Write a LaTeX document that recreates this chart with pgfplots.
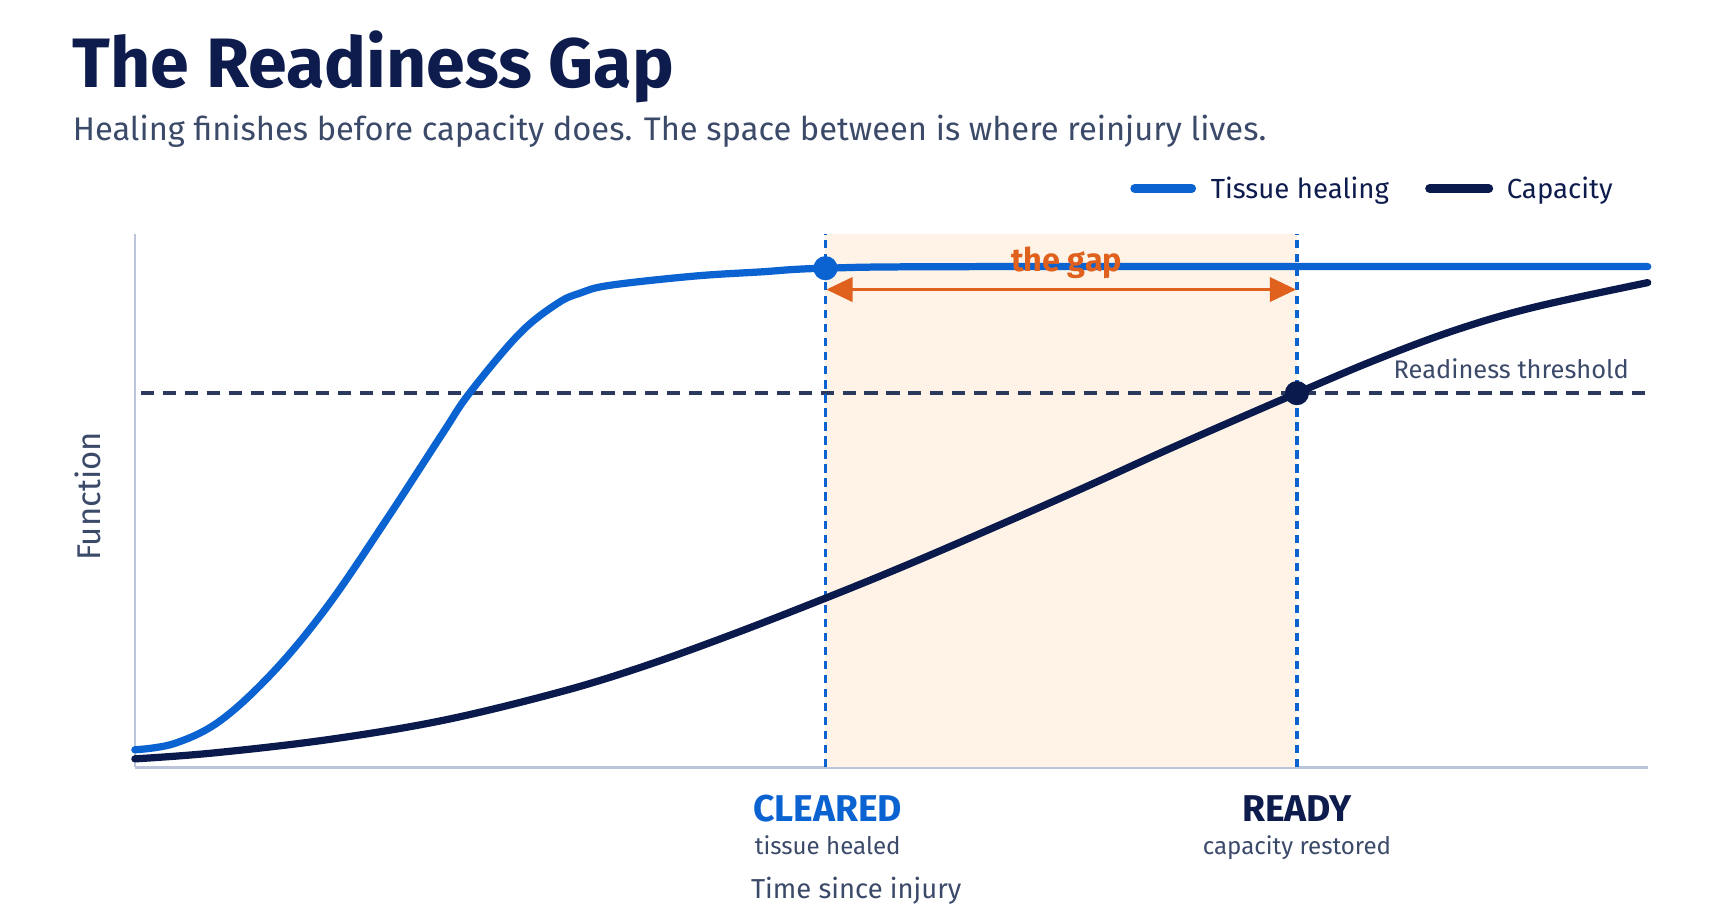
\documentclass[border=0pt]{standalone}
\usepackage{fontspec}
\setmainfont{Fira Sans}
\usepackage{pgfplots}
\pgfplotsset{compat=1.18}
\usetikzlibrary{arrows.meta}

\definecolor{titlenavy}{HTML}{0E1B4D}
\definecolor{subgray}{HTML}{3C4A6A}
\definecolor{healblue}{HTML}{0A63D1}
\definecolor{capnavy}{HTML}{0B1A4C}
\definecolor{thresh}{HTML}{2B3A5C}
\definecolor{gapfill}{HTML}{FEF3E6}
\definecolor{gaporange}{HTML}{E0611D}
\definecolor{axisgray}{HTML}{BCC4DB}

% Tissue healing curve
\pgfplotstableread{
x      y
0      3.3
2.64   4.5
5.67   8.8
9.22   18.1
12.76  30.3
16.56  46.1
20.35  62.6
22.12  70.1
25.41  81.2
27.93  86.9
29.49  88.9
31.41  90.3
36.90  92.0
41.32  92.8
45.65  93.5
56.00  93.8
100    93.8
}\healing

% Capacity curve
\pgfplotstableread{
x      y
0      1.6
5.17   2.7
12.76  5.2
20.35  8.8
27.93  14.0
33.39  18.7
39.29  24.7
45.65  31.7
51.10  38.0
56.99  45.2
62.90  52.6
68.80  60.2
76.81  70.1
82.07  76.4
87.28  81.9
92.50  86.2
100    90.8
}\capacity

\begin{document}
\begin{tikzpicture}[x=0.5pt,y=0.5pt]
\path[use as bounding box, fill=white] (0,0) rectangle (1568,835);

% Title block
\node[anchor=base west, inner sep=0, text=titlenavy,
      font=\fontsize{31.9}{38}\selectfont\bfseries] at (66,755) {The Readiness Gap};
\node[anchor=base west, inner sep=0, text=subgray,
      font=\fontsize{14.9}{17}\selectfont] at (66,707)
      {Healing finishes before capacity does. The space between is where reinjury lives.};

% Legend
\draw[healblue, line width=4pt, line cap=round] (1035,663) -- (1087,663);
\node[anchor=base west, inner sep=0, text=titlenavy, font=\fontsize{12.6}{15}\selectfont]
      at (1104,654) {Tissue healing};
\draw[capnavy, line width=4pt, line cap=round] (1304,663) -- (1358,663);
\node[anchor=base west, inner sep=0, text=titlenavy, font=\fontsize{12.6}{15}\selectfont]
      at (1374,654) {Capacity};

\begin{axis}[
  at={(61.5pt,67.5pt)}, anchor=south west,
  scale only axis, width=690pt, height=243.5pt,
  xmin=0, xmax=100, ymin=0, ymax=100,
  axis x line=bottom, axis y line=left,
  axis line style={-, draw=axisgray},
  x axis line style={line width=1.6pt},
  y axis line style={line width=1.1pt},
  xtick=\empty, ytick=\empty,
  clip=false,
]
% the gap band
\addplot[draw=none, fill=gapfill] coordinates {(45.65,0) (76.81,0) (76.81,100) (45.65,100)} -- cycle;
% readiness threshold
\addplot[thresh, line width=1.5pt, dash pattern=on 6pt off 4pt] coordinates {(0.4,70.1) (100,70.1)};
% milestone markers
\addplot[healblue, line width=1.5pt, dash pattern=on 3.8pt off 2.6pt] coordinates {(45.65,0) (45.65,100)};
\addplot[healblue, line width=1.5pt, dash pattern=on 3.8pt off 2.6pt] coordinates {(76.81,0) (76.81,100)};
% curves
\addplot[capnavy, line width=3.3pt, line cap=round, smooth, tension=0.6] table[x=x,y=y] {\capacity};
\addplot[healblue, line width=3.3pt, line cap=round, smooth, tension=0.6] table[x=x,y=y] {\healing};
% gap arrow
\addplot[gaporange, line width=1.6pt, {Triangle[length=12pt,width=11pt]}-{Triangle[length=12pt,width=11pt]}]
  coordinates {(45.70,89.5) (76.76,89.5)};
% points
\addplot[only marks, mark=*, mark size=5.3pt, color=healblue] coordinates {(45.65,93.5)};
\addplot[only marks, mark=*, mark size=5.3pt, color=capnavy] coordinates {(76.81,70.1)};
\end{axis}

% Annotations
\node[anchor=base, inner sep=0, text=gaporange, font=\fontsize{14.8}{17}\selectfont\bfseries]
      at (973,587) {the gap};
\node[anchor=base east, inner sep=0, text=subgray, font=\fontsize{11.6}{14}\selectfont]
      at (1486,490) {Readiness threshold};
\node[anchor=base, inner sep=0, text=healblue, font=\fontsize{17}{20}\selectfont\bfseries]
      at (755,86) {CLEARED};
\node[anchor=base, inner sep=0, text=subgray, font=\fontsize{11}{13}\selectfont]
      at (755,56) {tissue healed};
\node[anchor=base, inner sep=0, text=titlenavy, font=\fontsize{17}{20}\selectfont\bfseries]
      at (1183,86) {READY};
\node[anchor=base, inner sep=0, text=subgray, font=\fontsize{11}{13}\selectfont]
      at (1183,56) {capacity restored};
\node[anchor=base, inner sep=0, text=subgray, font=\fontsize{12.5}{15}\selectfont]
      at (781,15) {Time since injury};
\node[rotate=90, anchor=center, inner sep=0, text=subgray, font=\fontsize{15}{18}\selectfont]
      at (80,382) {Function};
\end{tikzpicture}
\end{document}
